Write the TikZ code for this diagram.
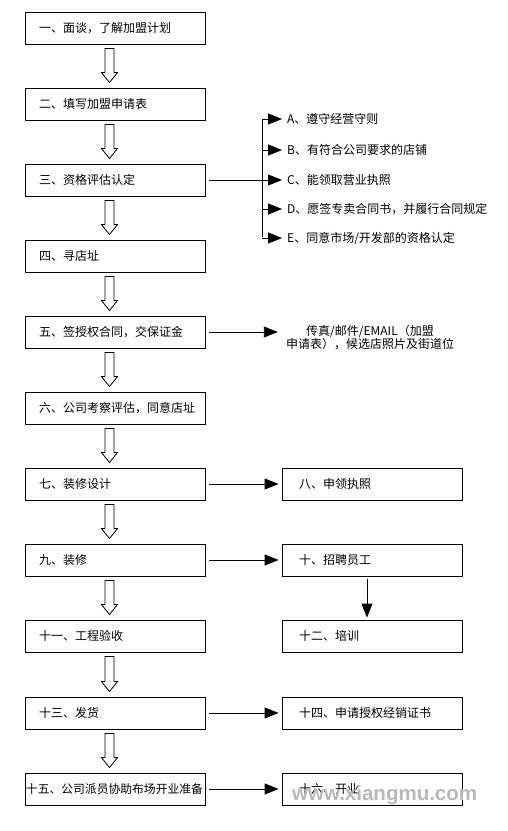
\documentclass[tikz,border=0pt]{standalone}
\usepackage{fontspec}
\newfontfamily\cjk{Noto Sans CJK SC}
\newfontfamily\wmfont{Liberation Sans}
\usetikzlibrary{arrows.meta,calc}
\tikzset{
  lbox/.style={draw,line width=0.9pt,minimum height=32pt,inner ysep=0pt,inner xsep=14pt,text width=152pt,align=left,font=\cjk\fontsize{12}{14}\selectfont},
  rbox/.style={draw,line width=0.9pt,minimum height=32pt,inner ysep=0pt,inner xsep=17pt,text width=146pt,align=left,font=\cjk\fontsize{12}{14}\selectfont},
  item/.style={anchor=west,inner xsep=5pt,inner ysep=0pt,font=\cjk\fontsize{12}{14}\selectfont},
  conn/.style={line width=0.9pt},
  tri/.style={line width=0.9pt,-{Triangle[length=14pt,width=11pt]}},
  hollow/.style={line width=0.8pt,fill=white},
}
\newcommand{\hollowarr}[2]{%
  \draw[hollow] ($(#1.south)+(-10,4)$) -- ($(#2.north)+(-10,-15)$) -- ($(#2.north)+(-13.5,-15)$)
    -- ($(#2.north)+(-5.5,-5)$) -- ($(#2.north)+(2.5,-15)$) -- ($(#2.north)+(-1,-15)$)
    -- ($(#1.south)+(-1,4)$) -- cycle;}
\begin{document}
\begin{tikzpicture}[x=1pt,y=-1pt]
\useasboundingbox[fill=white] (0,0) rectangle (508,831);
% left column
\node[lbox] (b1) at (115,28) {一、面谈，了解加盟计划};
\node[lbox] (b2) at (115,104) {二、填写加盟申请表};
\node[lbox] (b3) at (115,180) {三、资格评估认定};
\node[lbox] (b4) at (115,256) {四、寻店址};
\node[lbox] (b5) at (115,332) {五、签授权合同，交保证金};
\node[lbox] (b6) at (115,408) {六、公司考察评估，同意店址};
\node[lbox] (b7) at (115,484) {七、装修设计};
\node[lbox] (b9) at (115,560) {九、装修};
\node[lbox] (b11) at (115,636) {十一、工程验收};
\node[lbox] (b13) at (115,713) {十三、发货};
\node[lbox,inner xsep=1pt,text width=178pt,font=\cjk\fontsize{11.8}{14}\selectfont] (b15) at (115,789) {十五、公司派员协助布场开业准备};
% right column
\node[rbox] (b8) at (372,484) {八、申领执照};
\node[rbox] (b10) at (372,560) {十、招聘员工};
\node[rbox] (b12) at (372,636) {十二、培训};
\node[rbox] (b14) at (372,713) {十四、申请授权经销证书};
\node[rbox] (b16) at (372,789) {十六、开业};
% hollow arrows
\hollowarr{b1}{b2}
\hollowarr{b2}{b3}
\hollowarr{b3}{b4}
\hollowarr{b4}{b5}
\hollowarr{b5}{b6}
\hollowarr{b6}{b7}
\hollowarr{b7}{b9}
\hollowarr{b9}{b11}
\hollowarr{b11}{b13}
\hollowarr{b13}{b15}
% bracket list
\coordinate (brA) at (262,119);
\coordinate (brC) at (262,180);
\coordinate (brE) at (262,237);
\node[item] (lA) at (282,119) {A、遵守经营守则};
\node[item] (lB) at (282,150) {B、有符合公司要求的店铺};
\node[item] (lC) at (282,180) {C、能领取营业执照};
\node[item] (lD) at (282,209) {D、愿签专卖合同书，并履行合同规定};
\node[item] (lE) at (282,238) {E、同意市场/开发部的资格认定};
\draw[conn] ([xshift=4pt]b3.east) -- (brC);
\draw[conn] (brA) -- (brE);
\draw[tri] (brA) -- (lA.west);
\draw[tri] (brA |- lB.west) -- (lB.west);
\draw[tri] (brC) -- (lC.west);
\draw[tri] (brA |- lD.west) -- (lD.west);
\draw[tri] (brA |- lE.west) -- (lE.west);
% fax note
\node[align=center,inner xsep=8pt,inner ysep=0pt,font=\cjk\fontsize{12}{13}\selectfont] (fax) at (370,337) {传真/邮件/EMAIL（加盟\\申请表），候选店照片及街道位};
\draw[tri] ([xshift=4pt]b5.east) -- (b5.east -| fax.west);
% horizontal arrows
\draw[tri] ([xshift=4pt]b7.east) -- ([xshift=-3pt]b8.west);
\draw[tri] ([xshift=4pt]b9.east) -- ([xshift=-3pt]b10.west);
\draw[tri] ([xshift=4pt]b13.east) -- ([xshift=-3pt]b14.west);
\draw[tri] ([xshift=4pt]b15.east) -- ([xshift=-3pt]b16.west);
% vertical arrow
\draw[tri] ([xshift=-5pt,yshift=-3pt]b10.south) -- ([xshift=-5pt,yshift=2pt]b12.north);
% watermark
\node[anchor=west,inner sep=0pt,text=gray!55,font=\wmfont\bfseries\fontsize{20.5}{22}\selectfont] (wm) at (292,795) {www.xiangmu.com};
\end{tikzpicture}
\end{document}
